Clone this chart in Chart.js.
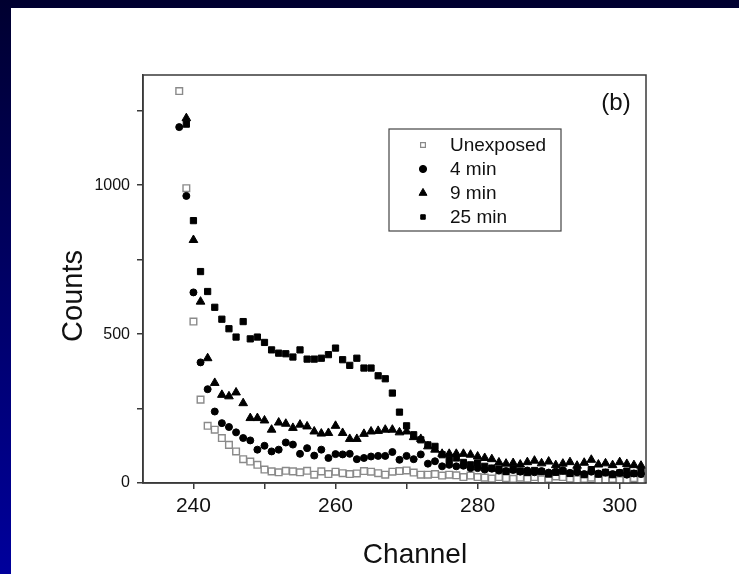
<!DOCTYPE html>
<html>
<head>
<meta charset="utf-8">
<script src="https://cdn.jsdelivr.net/npm/chart.js@4"></script>
<style>
  html, body { margin: 0; padding: 0; }
  body { width: 739px; height: 574px; overflow: hidden; position: relative;
         background: linear-gradient(to bottom, #000030 0%, #000066 50%, #00009c 100%); }
  #white { position: absolute; left: 11px; top: 8px; width: 728px; height: 566px; background: #ffffff; }
  #c { position: absolute; left: 0; top: 0; }
</style>
</head>
<body>
<div id="white"></div>
<canvas id="c" width="739" height="574"></canvas>
<script>
// ---- data ----
const channels = [238,239,240,241,242,243,244,245,246,247,248,249,250,251,252,253,254,255,256,257,258,259,260,261,262,263,264,265,266,267,268,269,270,271,272,273,274,275,276,277,278,279,280,281,282,283,284,285,286,287,288,289,290,291,292,293,294,295,296,297,298,299,300,301,302,303];
const unexposed = [1316,990,542,280,192,179,151,128,106,80,72,61,45,39,36,41,39,36,41,28,39,30,38,33,30,32,40,38,33,28,38,40,42,35,28,28,30,25,28,26,20,25,20,18,15,20,16,14,18,15,20,12,14,22,20,15,12,14,18,8,12,14,10,8,16,10];
const min4 = [1195,964,640,405,315,240,201,188,170,151,143,112,125,106,112,136,129,98,117,92,112,84,97,96,98,80,84,89,91,91,104,78,91,80,96,65,73,56,61,56,58,50,50,45,48,42,40,44,38,42,36,40,35,38,42,34,36,30,38,32,35,30,34,28,32,30];
const min9 = [null,1225,816,609,419,336,296,291,304,268,218,218,210,179,203,199,185,196,190,173,166,168,192,168,148,148,165,173,175,179,179,170,173,154,148,123,112,98,98,98,98,95,89,84,80,69,65,67,62,70,75,66,72,60,65,70,58,68,78,62,66,60,70,64,60,58];
const min25 = [null,1205,881,710,643,590,550,518,490,542,484,490,472,447,436,434,423,447,416,416,419,431,453,414,395,419,386,386,360,350,302,238,192,162,145,128,123,95,78,84,69,61,67,56,50,47,39,45,40,35,42,38,30,36,40,32,38,28,45,30,36,28,34,40,32,38];
const seriesLabels = ['Unexposed', '4 min', '9 min', '25 min'];
const panelLabel = '(b)';
const xTitle = 'Channel';
const yTitle = 'Counts';

const FONT = "'Liberation Sans', Arial, Helvetica, sans-serif";
const AXIS = '#3a3a3a';

function pts(arr) {
  const out = [];
  channels.forEach((c, i) => { if (arr[i] !== null) out.push({x: c, y: arr[i]}); });
  return out;
}

const styles = [
  {pointStyle: 'rect', pointRadius: 4.7, backgroundColor: '#ffffff', borderColor: '#8a8a8a', pointBorderWidth: 1.4, order: 4},
  {pointStyle: 'circle', pointRadius: 3.5, backgroundColor: '#000000', borderColor: '#000000', pointBorderWidth: 1, order: 1},
  {pointStyle: 'triangle', pointRadius: 5, backgroundColor: '#000000', borderColor: '#000000', pointBorderWidth: 1, order: 2},
  {pointStyle: 'rect', pointRadius: 4.4, backgroundColor: '#000000', borderColor: '#000000', pointBorderWidth: 1, order: 3}
];
const seriesData = [unexposed, min4, min9, min25];

const datasets = seriesData.map((arr, i) => Object.assign({
  label: seriesLabels[i],
  data: pts(arr),
  showLine: false,
  pointHoverRadius: styles[i].pointRadius
}, styles[i]));

const framePlugin = {
  id: 'frame',
  afterDraw(chart) {
    const {ctx, chartArea: a} = chart;
    ctx.save();
    ctx.strokeStyle = AXIS;
    ctx.lineWidth = 1.5;
    ctx.strokeRect(a.left, a.top, a.right - a.left, a.bottom - a.top);

    ctx.fillStyle = '#111';
    ctx.textAlign = 'center';
    ctx.textBaseline = 'middle';

    // axis titles
    ctx.font = '28px ' + FONT;
    ctx.fillText(xTitle, 415, 555);
    ctx.save();
    ctx.translate(74, 296);
    ctx.rotate(-Math.PI / 2);
    ctx.font = '29px ' + FONT;
    ctx.fillText(yTitle, 0, 0);
    ctx.restore();

    // panel label
    ctx.font = '24px ' + FONT;
    ctx.fillText(panelLabel, 616, 103);

    // legend box
    ctx.lineWidth = 1.2;
    ctx.strokeStyle = '#444';
    ctx.strokeRect(389, 129, 172, 102);
    const ys = [145, 169, 193, 217];
    const legRadius = [3.4, 3.6, 4.6, 3.2];
    ctx.font = '19px ' + FONT;
    ctx.textAlign = 'left';
    chart.data.datasets.forEach((ds, i) => {
      ctx.save();
      ctx.fillStyle = ds.backgroundColor;
      ctx.strokeStyle = ds.borderColor;
      ctx.lineWidth = i === 0 ? 1.2 : 1;
      Chart.helpers.drawPoint(ctx, {pointStyle: ds.pointStyle, radius: legRadius[i], borderWidth: ctx.lineWidth, rotation: 0}, 423, ys[i]);
      ctx.restore();
      ctx.fillStyle = '#111';
      ctx.fillText(ds.label, 450, ys[i] + 1);
    });
    ctx.restore();
  }
};

new Chart(document.getElementById('c'), {
  type: 'scatter',
  data: {datasets},
  plugins: [framePlugin],
  options: {
    responsive: false,
    animation: false,
    devicePixelRatio: 1,
    layout: {padding: {left: 0, top: 75, right: 93, bottom: 0}},
    plugins: {legend: {display: false}, tooltip: {enabled: false}},
    scales: {
      x: {
        type: 'linear',
        min: 232.9,
        max: 303.7,
        afterFit(scale) { scale.height = 91; },
        border: {display: true, color: AXIS, width: 1.5},
        grid: {drawOnChartArea: false, drawTicks: true, tickLength: 6, color: AXIS, lineWidth: 1.5},
        ticks: {
          stepSize: 10, includeBounds: false, autoSkip: false, maxRotation: 0,
          padding: 5, color: '#111', font: {family: FONT, size: 21},
          callback: v => (v % 20 === 0 ? String(v) : '')
        },
        title: {display: false, text: xTitle}
      },
      y: {
        type: 'linear',
        min: 0,
        max: 1370,
        afterFit(scale) { scale.width = 143; },
        border: {display: true, color: AXIS, width: 1.5},
        grid: {drawOnChartArea: false, drawTicks: true, tickLength: 6, color: AXIS, lineWidth: 1.5},
        ticks: {
          stepSize: 250, includeBounds: false, autoSkip: false,
          padding: 7, color: '#111', font: {family: FONT, size: 16},
          callback: v => (v % 500 === 0 ? String(v) : '')
        },
        title: {display: false, text: yTitle}
      }
    }
  }
});
</script>
</body>
</html>
